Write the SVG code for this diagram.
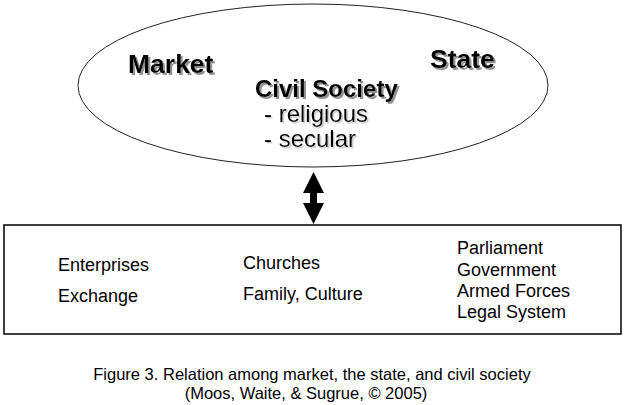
<svg xmlns="http://www.w3.org/2000/svg" width="627" height="405" viewBox="0 0 627 405">
<style>
text{font-family:"Liberation Sans",Arial,sans-serif;fill:#000}
.big{font-size:24px;font-weight:bold}
.head{font-size:26.5px;font-weight:bold}
.sub{font-size:24px}
.item{font-size:18px}
.cap{font-size:16.5px;text-anchor:middle}
</style>
<defs>
<filter id="sh" x="-10%" y="-20%" width="130%" height="150%">
<feDropShadow dx="2" dy="2" stdDeviation="0.7" flood-color="#888" flood-opacity="0.9"/>
</filter>
<filter id="sh2" x="-10%" y="-20%" width="130%" height="150%">
<feDropShadow dx="1.5" dy="1.5" stdDeviation="0.7" flood-color="#bbb" flood-opacity="0.8"/>
</filter>
</defs>
<rect width="627" height="405" fill="#fff"/>
<g id="ellipse-node">
<ellipse cx="313" cy="85.5" rx="235" ry="81.5" fill="#fff" stroke="#222" stroke-width="1"/>
<text class="head" x="128" y="73" filter="url(#sh)">Market</text>
<text class="head" x="430" y="68" filter="url(#sh)">State</text>
<text class="big" x="255" y="97" filter="url(#sh)">Civil Society</text>
<text class="sub" x="264" y="122" filter="url(#sh2)">- religious</text>
<text class="sub" x="264" y="147" filter="url(#sh2)">- secular</text>
</g>
<g id="connectors">
<polygon points="313.5,172 303,193 310,193 310,203 303,203 313.5,224 324,203 317,203 317,193 324,193" fill="#000"/>
</g>
<g id="box-node">
<rect x="4" y="225" width="617" height="109" fill="#fff" stroke="#000" stroke-width="1.5"/>
<text class="item" x="58" y="271">Enterprises</text>
<text class="item" x="58" y="302">Exchange</text>
<text class="item" x="243" y="269">Churches</text>
<text class="item" x="243" y="300">Family, Culture</text>
<text class="item" x="457" y="254">Parliament</text>
<text class="item" x="457" y="276">Government</text>
<text class="item" x="457" y="297">Armed Forces</text>
<text class="item" x="457" y="318">Legal System</text>
</g>
<g id="caption">
<text class="cap" x="312" y="380">Figure 3. Relation among market, the state, and civil society</text>
<text class="cap" x="306" y="399">(Moos, Waite, &amp; Sugrue, © 2005)</text>
</g>
</svg>
